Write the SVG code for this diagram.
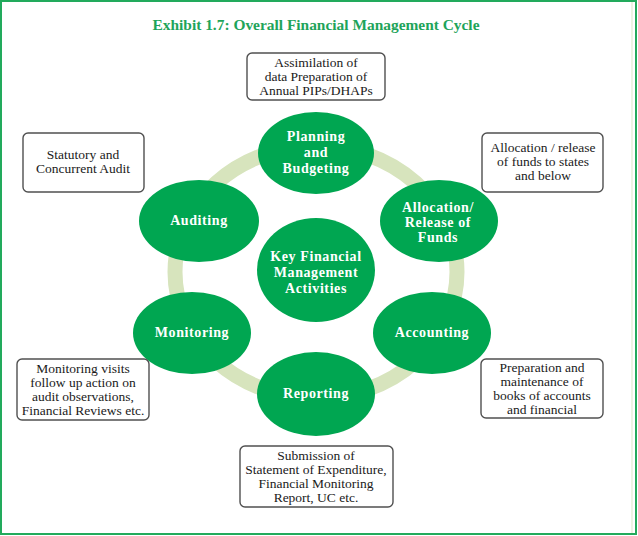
<svg xmlns="http://www.w3.org/2000/svg" width="638" height="536" viewBox="0 0 638 536">
<style>
.node ellipse{fill:#00a651}
.nt{font-family:"Liberation Serif","Times New Roman",serif;font-weight:bold;font-size:14px;fill:#ffffff;text-anchor:middle;letter-spacing:0.6px}
.box rect{fill:#ffffff;stroke:#505050;stroke-width:1.4}
.bt{font-family:"Liberation Serif","Times New Roman",serif;font-size:13.5px;fill:#1a1a1a;text-anchor:middle}
.title{font-family:"Liberation Serif","Times New Roman",serif;font-weight:bold;font-size:14.5px;fill:#1ea45a;text-anchor:middle}
</style>
<rect x="0" y="0" width="638" height="536" fill="#ffffff"/>
<line x1="632" y1="2" x2="632" y2="533" stroke="#e6f1da" stroke-width="1.5"/>
<rect x="1" y="1" width="635" height="533" fill="none" stroke="#22aa5c" stroke-width="2"/>
<text class="title" x="316" y="30" textLength="327" lengthAdjust="spacingAndGlyphs">Exhibit 1.7: Overall Financial Management Cycle</text>

<g id="connectors">
  <ellipse cx="316" cy="272" rx="141" ry="126" fill="none" stroke="#d7e4bd" stroke-width="15"/>
</g>

<g id="node-center" class="node">
  <ellipse cx="316" cy="270" rx="59" ry="52"/>
  <text class="nt" x="316" y="261">Key Financial</text>
  <text class="nt" x="316" y="277">Management</text>
  <text class="nt" x="316" y="293">Activities</text>
</g>
<g id="node-planning" class="node">
  <ellipse cx="316" cy="153" rx="58" ry="41"/>
  <text class="nt" x="316" y="141">Planning</text>
  <text class="nt" x="316" y="157">and</text>
  <text class="nt" x="316" y="173">Budgeting</text>
</g>
<g id="node-allocation" class="node">
  <ellipse cx="439" cy="221" rx="59" ry="41"/>
  <text class="nt" x="438" y="212">Allocation/</text>
  <text class="nt" x="438" y="227">Release of</text>
  <text class="nt" x="438" y="242">Funds</text>
</g>
<g id="node-accounting" class="node">
  <ellipse cx="432" cy="333" rx="59" ry="41"/>
  <text class="nt" x="432" y="337">Accounting</text>
</g>
<g id="node-reporting" class="node">
  <ellipse cx="316" cy="394" rx="59" ry="42"/>
  <text class="nt" x="316" y="398">Reporting</text>
</g>
<g id="node-monitoring" class="node">
  <ellipse cx="192" cy="333" rx="59" ry="41"/>
  <text class="nt" x="192" y="337">Monitoring</text>
</g>
<g id="node-auditing" class="node">
  <ellipse cx="199" cy="221" rx="60" ry="41"/>
  <text class="nt" x="199" y="225">Auditing</text>
</g>

<g id="box-planning" class="box">
  <rect x="247" y="53" width="138" height="47" rx="5"/>
  <text class="bt" x="316" y="67">Assimilation of</text>
  <text class="bt" x="316" y="81">data Preparation of</text>
  <text class="bt" x="316" y="95">Annual PIPs/DHAPs</text>
</g>
<g id="box-allocation" class="box">
  <rect x="482" y="133" width="121" height="59" rx="5"/>
  <text class="bt" x="543" y="152">Allocation / release</text>
  <text class="bt" x="543" y="166">of funds to states</text>
  <text class="bt" x="543" y="180">and below</text>
</g>
<g id="box-accounting" class="box">
  <rect x="481" y="359" width="122" height="59" rx="5"/>
  <text class="bt" x="542" y="372">Preparation and</text>
  <text class="bt" x="542" y="386">maintenance of</text>
  <text class="bt" x="542" y="400">books of accounts</text>
  <text class="bt" x="542" y="414">and financial</text>
</g>
<g id="box-reporting" class="box">
  <rect x="240" y="446" width="153" height="61" rx="5"/>
  <text class="bt" x="316" y="460">Submission of</text>
  <text class="bt" x="316" y="474">Statement of Expenditure,</text>
  <text class="bt" x="316" y="488">Financial Monitoring</text>
  <text class="bt" x="316" y="502">Report, UC etc.</text>
</g>
<g id="box-monitoring" class="box">
  <rect x="17" y="359" width="132" height="61" rx="5"/>
  <text class="bt" x="83" y="373">Monitoring visits</text>
  <text class="bt" x="83" y="387">follow up action on</text>
  <text class="bt" x="83" y="401">audit observations,</text>
  <text class="bt" x="83" y="415">Financial Reviews etc.</text>
</g>
<g id="box-auditing" class="box">
  <rect x="23" y="133" width="121" height="59" rx="5"/>
  <text class="bt" x="83" y="159">Statutory and</text>
  <text class="bt" x="83" y="173">Concurrent Audit</text>
</g>
</svg>
